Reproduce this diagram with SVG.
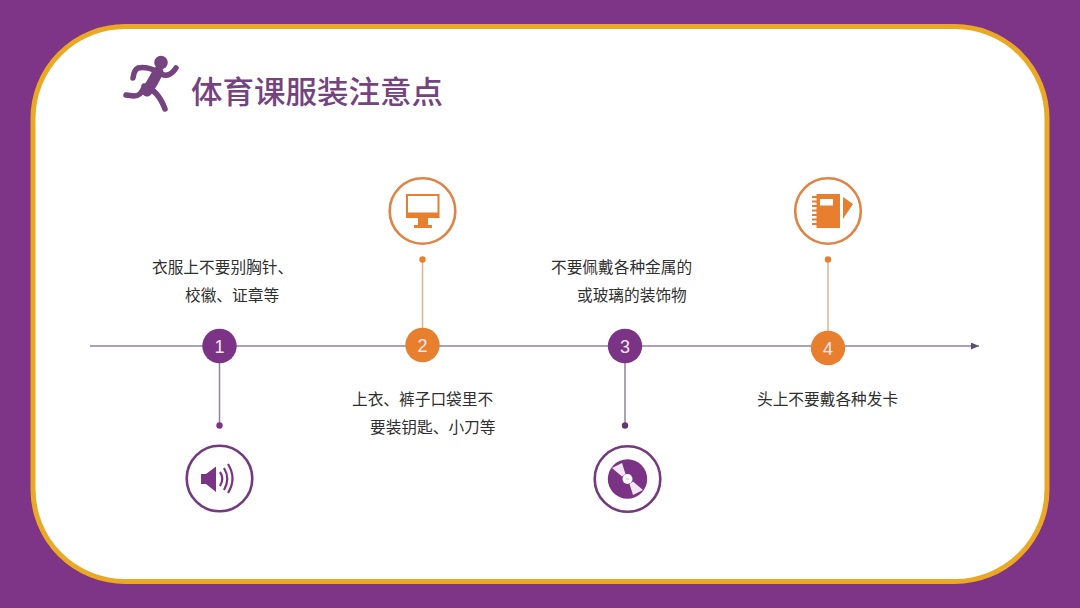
<svg xmlns="http://www.w3.org/2000/svg" width="1080" height="608" viewBox="0 0 1080 608">
<defs>
<style>
.t{font-family:"Noto Sans CJK SC","Liberation Sans",sans-serif;font-size:15.7px;fill:#2f2f2f}
.n{font-family:"Liberation Sans",Arial,sans-serif;font-size:18px;fill:#f6e6f2;text-anchor:middle}
.p{fill:#7b3386}.o{fill:#e87f2e}
.rp{fill:#fff;stroke:#74397f;stroke-width:2.6}
.ro{fill:#fff;stroke:#df8444;stroke-width:2.6}
.lp{stroke:#94829b;stroke-width:1.5;fill:none}
.lo{stroke:#e3b088;stroke-width:1.5;fill:none}
</style>
<marker id="arr" markerWidth="9" markerHeight="8" refX="8" refY="3.500" orient="auto" markerUnits="userSpaceOnUse"><path d="M0 0L8 3.500L0 7Z" fill="#5f4a78"/></marker>
</defs>
<rect width="1080" height="608" fill="#7e3587"/>
<rect x="33" y="26.500" width="1014" height="555" rx="92" ry="92" fill="#fff" stroke="#eba823" stroke-width="5"/>
<g id="title">
<circle cx="161" cy="62.500" r="6.800" fill="#75437f"/>
<path d="M158 72Q168 80 176 68M156 71Q146 66 138 68Q134 70 133 78M144 87Q141 96 134 96L126 95M144 86Q158 90 165 109" fill="none" stroke="#75437f" stroke-width="5.500" stroke-linecap="round" stroke-linejoin="round"/>
<path d="M158 72Q153 82 147 91" fill="none" stroke="#75437f" stroke-width="11" stroke-linecap="round"/>
<text x="191" y="103" font-family="'Noto Sans CJK SC','Liberation Sans',sans-serif" font-size="31" font-weight="500" fill="#75437f" textLength="252" lengthAdjust="spacingAndGlyphs">体育课服装注意点</text>
</g>
<g id="connectors">
<line x1="90" y1="346" x2="979" y2="346" class="lp" marker-end="url(#arr)"/>
<line x1="219.500" y1="346" x2="219.500" y2="425" class="lp"/>
<line x1="422.500" y1="259" x2="422.500" y2="346" class="lo"/>
<line x1="625" y1="346" x2="625" y2="425" class="lp"/>
<line x1="828" y1="259" x2="828" y2="348" class="lo"/>
</g>
<g id="node1">
<circle cx="219.500" cy="346" r="17.200" class="p"/><text x="219.500" y="352.500" class="n">1</text>
<circle cx="219.500" cy="425.500" r="3.200" class="p"/>
<circle cx="219.500" cy="478.500" r="32.800" class="rp"/>
<path d="M201 474H206L216 466.500V492L206 484H201Z" class="p"/>
<path d="M220 472Q224.500 478.500 220 486M224 468Q230.500 478.500 224 490M228 464Q237 478.500 228 493" fill="none" stroke="#7b3386" stroke-width="2.200"/>
<text x="152" y="272.500" class="t">衣服上不要别胸针、</text>
<text x="185" y="300.500" class="t">校徽、证章等</text>
</g>
<g id="node2">
<circle cx="422.500" cy="345" r="17.200" class="o"/><text x="422.500" y="351.500" class="n">2</text>
<circle cx="422.500" cy="259.500" r="3.200" class="o"/>
<circle cx="422.500" cy="211" r="32.800" class="ro"/>
<path fill-rule="evenodd" d="M406 194H439.500V218H406ZM408 196V212.500H437.500V196Z" class="o"/>
<path d="M418 218H428V225H432V228H414V225H418Z" class="o"/>
<text x="352" y="404.500" class="t">上衣、裤子口袋里不</text>
<text x="370" y="433" class="t">要装钥匙、小刀等</text>
</g>
<g id="node3">
<circle cx="625" cy="346" r="17.200" class="p"/><text x="625" y="352.500" class="n">3</text>
<circle cx="625" cy="425.500" r="3.200" fill="#5f3a70"/>
<circle cx="627.500" cy="479" r="32.800" class="rp"/>
<circle cx="627.500" cy="479" r="19.700" class="p"/>
<path d="M612 468L622 463L625.500 474L622 476.500ZM643 490L633 495L629.500 484L633 481.500Z" fill="#f3e6f3"/>
<circle cx="627.500" cy="479" r="5" fill="#fff"/><circle cx="627.500" cy="479" r="1.500" fill="#e8d5ea"/>
<text x="551" y="272.500" class="t">不要佩戴各种金属的</text>
<text x="577" y="300.500" class="t">或玻璃的装饰物</text>
</g>
<g id="node4">
<circle cx="828" cy="348" r="17.200" class="o"/><text x="828" y="354.500" class="n">4</text>
<circle cx="828" cy="259.500" r="3.200" class="o"/>
<circle cx="828" cy="211" r="32.800" class="ro"/>
<path fill-rule="evenodd" d="M816.500 194H840V228H816.500ZM820 199V205.500H833V199Z" class="o"/>
<path d="M843 197L853 204L843 219Z" class="o"/>
<path d="M812 197H817M812 201.500H817M812 206H817M812 210.500H817M812 215H817M812 219.500H817M812 224H817" stroke="#e08038" stroke-width="1.800" fill="none"/>
<text x="757" y="404.500" class="t">头上不要戴各种发卡</text>
</g>
</svg>
